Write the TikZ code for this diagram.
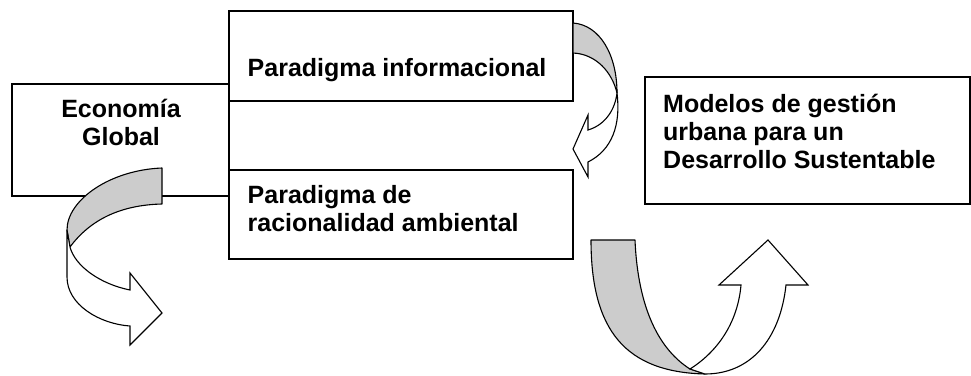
\documentclass[tikz,border=0pt]{standalone}
\usepackage{fontspec}
\setmainfont{Liberation Sans}
\begin{document}
\begin{tikzpicture}[x=1pt,y=-1pt,
    caja/.style={draw,line width=1.2pt,inner sep=0pt,outer sep=0pt},
    rotulo/.style={inner sep=0pt,font=\fontsize{25}{28}\selectfont\bfseries},
    fondo/.style={draw,line width=1.1pt,fill=black!20,line join=round},
    frente/.style={draw,line width=1.1pt,fill=white,line join=miter}]
        \useasboundingbox (0,0) rectangle (971,375);
        % cajas
        \node[caja,minimum width=217pt,minimum height=112pt] (eco) at (120.5,140) {};
        \node[caja,minimum width=344pt,minimum height=90pt] (inf) at (401,56) {};
        \node[caja,minimum width=344pt,minimum height=89pt] (amb) at (401,214.5) {};
        \node[caja,minimum width=325pt,minimum height=127pt] (mod) at (807.5,140.5) {};
        % textos
        \node[rotulo,align=center,anchor=north] (teco) at (121,99) {Econom\'ia\\Global};
        \node[rotulo,anchor=base west] (tinf) at (247.5,76) {Paradigma informacional};
        \node[rotulo,align=left,anchor=north west] (tamb) at (247.5,185) {Paradigma de\\racionalidad ambiental};
        \node[rotulo,align=left,anchor=north west] (tmod) at (663,94) {Modelos de gesti\'on\\urbana para un\\Desarrollo Sustentable};
        % flecha bajo Economia Global
        \draw[fondo] (162,168) .. controls (110,170) and (67,200) .. (67,230) -- (70,247)
            .. controls (90,220) and (120,205) .. (162,204) -- cycle;
        \draw[frente] (67,230) -- (67,277) .. controls (67,305) and (100,324) .. (130,326)
            -- (130,345) -- (162,313) -- (130,273) -- (130,290)
            .. controls (100,284) and (75,266) .. (70,247) -- cycle;
        % flecha entre paradigmas
        \draw[fondo] (573,23) .. controls (600,25) and (617,55) .. (617,93)
            .. controls (612,72) and (596,54) .. (573,53) -- cycle;
        \draw[frente] (617,93) .. controls (615,110) and (605,125) .. (588,130)
            -- (588,115) -- (573,149) -- (588,177) -- (588,162)
            .. controls (612,150) and (621,125) .. (617,93) -- cycle;
        % flecha hacia Modelos
        \draw[fondo] (591,240) -- (635,240) .. controls (638,310) and (660,350) .. (690,369)
            -- (705,374) .. controls (625,372) and (591,330) .. (591,240) -- cycle;
        \draw[frente] (690,369) .. controls (720,350) and (738,320) .. (741,285)
            -- (719,285) -- (768,240) -- (808,285) -- (786,285)
            .. controls (780,340) and (750,374) .. (705,374) -- cycle;
    \end{tikzpicture}
\end{document}
